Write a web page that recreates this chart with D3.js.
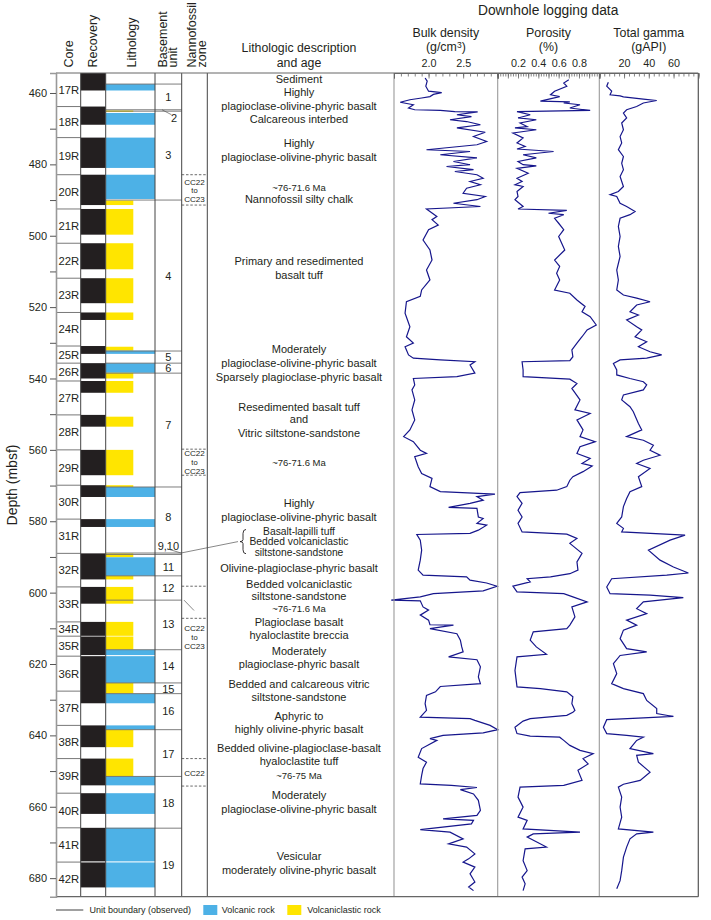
<!DOCTYPE html>
<html>
<head>
<meta charset="utf-8">
<script src="https://cdn.jsdelivr.net/npm/d3@7"></script>
<style>
  body { margin: 0; background: #fff; }
  text { font-family: "Liberation Sans", Arial, Helvetica, sans-serif; fill: #231f20; }
</style>
</head>
<body>
<script>
// ---- data (depths in mbsf) ----
const cores = [['17R', 454.4], ['18R', 463.8], ['19R', 472.5], ['20R', 482.9], ['21R', 492.5],
  ['22R', 502.1], ['23R', 511.9], ['24R', 521.5], ['25R', 530.9], ['26R', 535.7], ['27R', 540.7],
  ['28R', 550.2], ['29R', 560.0], ['30R', 569.9], ['31R', 579.4], ['32R', 589.0], ['33R', 598.4],
  ['34R', 608.2], ['35R', 612.2], ['36R', 617.8], ['37R', 627.6], ['38R', 637.2], ['39R', 646.5],
  ['40R', 656.2], ['41R', 665.9], ['42R', 675.5]];
const coreBottom = 685.2;

const recovery = [[454.4, 459.3], [463.8, 468.9], [472.5, 481.0], [482.9, 491.4], [492.5, 499.7],
  [502.1, 509.4], [511.9, 518.9], [521.5, 523.6], [530.9, 533.1], [535.7, 540.0], [540.7, 544.0],
  [550.2, 553.5], [560.0, 567.1], [569.9, 573.2], [579.4, 581.6], [589.0, 596.3], [598.4, 603.1],
  [608.2, 612.1], [612.3, 617.5], [617.8, 631.0], [637.2, 643.3], [646.5, 654.0], [656.2, 662.0],
  [665.9, 675.3], [675.6, 682.6]];

// V = volcanic rock, C = volcaniclastic rock
const lithology = [[457.5, 459.3, 'V'], [464.9, 465.3, 'C'], [465.6, 468.9, 'V'], [472.5, 481.0, 'V'],
  [482.9, 489.7, 'V'], [490.1, 491.4, 'C'], [492.5, 499.7, 'C'], [502.1, 509.4, 'C'], [511.9, 518.9, 'C'],
  [521.5, 523.6, 'C'], [531.1, 532.2, 'C'], [532.2, 533.1, 'V'], [535.7, 538.4, 'V'], [538.4, 540.0, 'C'],
  [540.7, 544.0, 'C'], [550.7, 553.5, 'C'], [560.0, 567.1, 'C'], [569.9, 570.4, 'C'], [570.4, 573.2, 'V'],
  [579.4, 581.6, 'V'], [589.0, 590.1, 'C'], [590.1, 595.3, 'V'], [595.3, 596.3, 'C'], [598.4, 603.1, 'C'],
  [608.2, 612.1, 'C'], [612.3, 616.0, 'C'], [616.0, 617.5, 'V'], [617.8, 625.3, 'V'], [625.3, 628.3, 'C'],
  [628.3, 631.0, 'V'], [637.2, 638.4, 'V'], [638.4, 643.3, 'C'], [646.5, 651.5, 'C'], [651.5, 654.0, 'V'],
  [656.2, 662.0, 'V'], [665.9, 675.3, 'V'], [675.6, 682.6, 'V']];

const unitBounds = [457.5, 464.7, 465.1, 490.0, 532.3, 535.7, 538.5, 570.4, 588.9, 589.3,
  595.3, 602.1, 616.0, 625.3, 628.3, 638.4, 651.5, 666.0];
const unitLabels = [[461.1, '1'], [467.0, '2'], [477.3, '3'], [511.4, '4'], [533.9, '5'], [537.1, '6'],
  [553.0, '7'], [578.9, '8'], [586.9, '9,10'], [592.8, '11'], [598.7, '12'], [608.7, '13'],
  [620.6, '14'], [626.9, '15'], [633.3, '16'], [645.1, '17'], [659.0, '18'], [676.2, '19']];

const zoneDashes = [482.9, 491.4, 559.8, 567.1, 598.2, 607.2, 646.5, 654.2];
const zoneLabels = [[484.9, 'CC22'], [487.3, 'to'], [489.7, 'CC23'], [560.9, 'CC22'], [563.4, 'to'],
  [565.9, 'CC23'], [609.9, 'CC22'], [612.5, 'to'], [615.0, 'CC23'], [650.6, 'CC22']];

const descLines = [[456.1, 'Sediment'], [459.8, 'Highly'], [463.6, 'plagioclase-olivine-phyric basalt'],
  [467.3, 'Calcareous interbed'], [473.9, 'Highly'], [478.0, 'plagioclase-olivine-phyric basalt'],
  [489.7, 'Nannofossil silty chalk'], [507.2, 'Primary and resedimented'], [511.0, 'basalt tuff'],
  [531.8, 'Moderately'], [535.6, 'plagioclase-olivine-phyric basalt'],
  [539.5, 'Sparsely plagioclase-phyric basalt'], [547.9, 'Resedimented basalt tuff'], [551.4, 'and'],
  [555.4, 'Vitric siltstone-sandstone'], [575.0, 'Highly'], [578.9, 'plagioclase-olivine-phyric basalt'],
  [593.2, 'Olivine-plagioclase-phyric basalt'], [597.6, 'Bedded volcaniclastic'],
  [600.9, 'siltstone-sandstone'], [608.2, 'Plagioclase basalt'], [612.0, 'hyaloclastite breccia'],
  [616.4, 'Moderately'], [619.9, 'plagioclase-phyric basalt'], [625.5, 'Bedded and calcareous vitric'],
  [629.3, 'siltstone-sandstone'], [634.7, 'Aphyric to'], [638.1, 'highly olivine-phyric basalt'],
  [643.5, 'Bedded olivine-plagioclase-basalt'], [647.3, 'hyaloclastite tuff'], [656.6, 'Moderately'],
  [660.6, 'plagioclase-olivine-phyric basalt'], [673.9, 'Vesicular'],
  [677.6, 'moderately olivine-phyric basalt']];
// lines grouped by the brace (units 9 and 10)
const braceLines = [[582.75, 'Basalt-lapilli tuff'], [585.7, 'Bedded volcaniclastic'],
  [588.65, 'siltstone-sandstone']];
const ageLines = [[486.4, '~76-71.6 Ma'], [563.6, '~76-71.6 Ma'], [604.5, '~76-71.6 Ma'], [651.4, '~76-75 Ma']];

const depthTicks = [460, 470, 480, 490, 500, 510, 520, 530, 540, 550, 560, 570, 580, 590, 600,
  610, 620, 630, 640, 650, 660, 670, 680];
const densityTicks = [2.0, 2.5];
const porosityTicks = [0.2, 0.4, 0.6, 0.8];
const gammaTicks = [20, 40, 60];

// [depth, g/cm3]
const density = [[455.8, 1.95], [456.7, 1.98], [458.1, 1.96], [459.5, 2.00], [459.9, 2.19], [460.4, 2.07],
  [461.0, 2.02], [461.4, 1.90], [461.9, 1.73], [462.6, 1.59], [463.3, 1.78], [464.2, 1.71], [464.7, 1.80],
  [464.9, 2.17], [465.2, 2.38], [465.3, 2.71], [466.1, 2.41], [466.6, 2.62], [467.5, 2.31], [468.0, 2.55],
  [468.9, 2.75], [469.8, 2.41], [471.0, 2.82], [472.2, 2.65], [473.6, 2.84], [474.5, 2.70], [475.9, 1.97],
  [476.4, 2.60], [477.3, 2.17], [478.2, 2.70], [479.2, 2.36], [480.1, 2.60], [480.6, 2.26], [481.5, 2.65],
  [482.0, 2.38], [482.9, 2.70], [483.9, 2.79], [484.8, 2.60], [485.7, 2.75], [486.7, 2.55], [488.1, 2.50],
  [489.0, 2.82], [489.9, 2.70], [490.9, 2.36], [491.8, 2.75], [492.5, 1.97], [493.2, 2.02], [494.6, 2.12],
  [495.5, 2.05], [497.0, 2.14], [498.3, 2.00], [501.2, 1.92], [504.0, 2.02], [506.8, 2.05], [509.6, 1.97],
  [512.4, 2.02], [515.2, 1.90], [517.0, 1.88], [518.5, 1.68], [521.7, 1.66], [525.5, 1.73], [528.3, 1.68],
  [530.1, 1.78], [531.1, 1.66], [533.4, 1.71], [534.3, 1.78], [534.8, 2.17], [535.3, 2.67], [536.2, 2.60],
  [538.5, 2.67], [539.5, 2.41], [540.0, 1.78], [541.8, 1.80], [543.2, 1.76], [546.0, 1.80], [548.8, 1.76],
  [551.6, 1.80], [554.4, 1.73], [556.3, 1.64], [557.7, 1.78], [560.1, 1.88], [561.0, 1.97], [561.9, 1.80],
  [564.7, 1.85], [566.6, 1.90], [568.0, 2.05], [570.3, 2.02], [571.7, 2.17], [572.4, 2.96], [573.1, 2.70],
  [574.1, 2.79], [575.0, 2.60], [576.1, 2.29], [576.4, 2.70], [578.8, 2.72], [579.2, 2.79], [580.6, 2.70],
  [581.1, 2.84], [582.5, 2.72], [583.4, 2.60], [583.7, 1.83], [585.3, 1.88], [588.1, 1.90], [590.9, 1.88],
  [593.7, 1.85], [595.1, 1.92], [595.6, 2.55], [596.5, 2.60], [597.3, 2.84], [598.2, 2.99], [599.5, 2.79],
  [600.3, 2.07], [601.2, 1.88], [602.1, 1.46], [602.3, 1.88], [604.0, 1.92], [604.9, 2.00], [606.3, 1.88],
  [607.7, 2.00], [609.0, 2.02], [609.1, 2.36], [610.1, 2.02], [611.5, 2.41], [613.3, 2.46], [615.2, 2.48],
  [616.6, 2.50], [618.0, 2.29], [618.8, 2.70], [620.8, 2.75], [623.6, 2.72], [625.5, 2.75], [626.3, 2.17],
  [627.8, 2.10], [628.8, 1.97], [631.1, 1.95], [633.0, 1.97], [634.9, 1.88], [635.3, 2.60], [635.8, 2.67],
  [637.2, 2.89], [638.4, 3.00], [639.3, 2.79], [640.0, 2.21], [640.9, 2.02], [641.4, 2.12], [643.7, 1.90],
  [646.1, 1.85], [647.5, 1.97], [649.3, 1.92], [651.2, 1.90], [653.6, 1.88], [654.0, 2.33], [654.6, 2.70],
  [655.2, 2.46], [656.4, 2.65], [658.2, 2.72], [661.0, 2.75], [662.4, 2.70], [663.4, 2.21], [663.8, 2.65],
  [664.8, 2.62], [666.4, 1.88], [667.1, 2.31], [669.0, 2.50], [670.4, 2.29], [671.3, 2.55], [673.2, 2.67],
  [674.6, 2.58], [675.5, 2.50], [676.9, 2.67], [678.8, 2.60], [681.1, 2.67], [682.5, 2.58], [683.5, 2.65]];

// [depth, fraction]
const porosity = [[456.3, 0.70], [457.2, 0.65], [458.1, 0.68], [459.5, 0.56], [460.5, 0.52], [461.0, 0.61],
  [462.3, 0.42], [462.5, 0.71], [462.8, 0.65], [463.3, 0.81], [464.2, 0.71], [464.9, 0.91], [465.2, 0.19],
  [466.1, 0.32], [467.0, 0.20], [467.5, 0.38], [468.4, 0.22], [469.4, 0.29], [469.8, 0.17], [470.3, 0.38],
  [471.2, 0.15], [472.6, 0.25], [474.0, 0.19], [475.0, 0.27], [475.7, 0.19], [476.4, 0.55], [477.3, 0.25],
  [478.2, 0.38], [479.2, 0.20], [480.1, 0.25], [480.4, 0.38], [481.1, 0.19], [482.5, 0.30], [483.9, 0.19],
  [484.8, 0.24], [485.7, 0.17], [486.2, 0.25], [487.6, 0.19], [489.0, 0.20], [489.9, 0.17], [491.8, 0.25],
  [492.5, 0.20], [492.9, 0.68], [493.7, 0.50], [494.1, 0.65], [495.1, 0.56], [496.5, 0.60], [498.3, 0.65],
  [500.2, 0.60], [504.0, 0.66], [506.8, 0.56], [508.6, 0.61], [510.5, 0.58], [512.4, 0.61], [515.2, 0.56],
  [516.1, 0.71], [518.0, 0.78], [519.8, 0.86], [521.3, 0.83], [522.7, 0.91], [525.0, 0.97], [526.4, 0.88],
  [528.3, 0.83], [530.1, 0.78], [532.0, 0.73], [533.9, 0.74], [535.0, 0.71], [535.3, 0.24], [537.6, 0.25],
  [539.5, 0.25], [540.2, 0.71], [541.4, 0.78], [542.8, 0.73], [543.2, 0.74], [546.0, 0.81], [548.8, 0.76],
  [549.8, 0.91], [551.6, 0.78], [554.4, 0.84], [556.3, 0.81], [557.7, 0.96], [559.1, 0.81], [561.0, 0.78],
  [562.4, 0.91], [563.8, 0.83], [564.5, 0.93], [566.1, 0.84], [567.5, 0.74], [568.5, 0.71], [570.3, 0.68],
  [571.3, 0.58], [572.0, 0.22], [573.1, 0.19], [575.0, 0.24], [576.9, 0.20], [578.8, 0.24], [580.6, 0.20],
  [583.0, 0.24], [583.6, 0.68], [584.8, 0.78], [586.2, 0.71], [589.0, 0.83], [591.4, 0.78], [593.7, 0.79],
  [594.7, 0.71], [595.6, 0.52], [596.1, 0.29], [597.0, 0.32], [598.2, 0.15], [599.8, 0.19], [600.3, 0.65],
  [601.2, 0.74], [602.6, 0.88], [604.0, 0.73], [606.8, 0.76], [609.1, 0.71], [610.1, 0.68], [611.0, 0.35],
  [613.3, 0.32], [615.2, 0.38], [617.3, 0.48], [618.0, 0.19], [621.8, 0.17], [626.4, 0.19], [626.9, 0.42],
  [627.8, 0.68], [629.2, 0.74], [631.1, 0.73], [633.0, 0.76], [633.5, 0.74], [634.4, 0.68], [635.3, 0.32],
  [636.0, 0.25], [637.7, 0.17], [639.5, 0.19], [640.2, 0.32], [640.5, 0.61], [641.4, 0.65], [642.8, 0.71],
  [644.2, 0.81], [645.1, 0.94], [646.5, 0.84], [648.0, 0.89], [649.8, 0.79], [652.6, 0.83], [654.0, 0.65],
  [654.5, 0.22], [657.3, 0.20], [660.1, 0.25], [662.9, 0.20], [663.8, 0.29], [666.2, 0.25], [667.1, 0.81],
  [667.6, 0.35], [668.5, 0.29], [671.3, 0.48], [671.8, 0.27], [675.1, 0.25], [677.9, 0.29], [679.7, 0.24],
  [681.6, 0.27], [683.5, 0.25]];

// [depth, gAPI]
const gamma = [[457.0, 7.3], [458.1, 6.0], [459.5, 10.0], [460.5, 8.7], [460.8, 16.8], [461.1, 19.5],
  [461.7, 35.6], [462.1, 46.4], [462.8, 35.6], [463.8, 30.2], [464.7, 22.1], [465.6, 19.5], [467.0, 22.1],
  [468.4, 18.1], [470.3, 19.5], [472.2, 16.8], [474.0, 18.1], [475.9, 15.4], [477.8, 19.5], [479.7, 18.1],
  [481.5, 19.5], [483.4, 16.8], [486.2, 19.5], [487.6, 15.4], [488.5, 8.7], [489.0, 14.1], [490.9, 16.8],
  [491.8, 22.1], [493.2, 28.9], [494.1, 24.8], [495.1, 16.8], [497.4, 15.4], [500.2, 16.8], [503.0, 15.4],
  [505.8, 16.8], [509.6, 14.1], [512.4, 15.4], [515.2, 14.1], [516.6, 19.5], [517.5, 30.2], [518.5, 41.0],
  [519.4, 30.2], [521.3, 24.8], [522.2, 31.6], [523.6, 22.1], [525.5, 30.2], [526.4, 34.3], [528.3, 28.9],
  [529.7, 38.3], [531.1, 31.6], [532.5, 41.0], [533.4, 50.4], [534.3, 38.3], [534.8, 16.8], [535.8, 11.4],
  [537.6, 14.1], [539.0, 14.1], [540.0, 24.8], [540.9, 35.6], [541.8, 38.3], [543.2, 35.6], [544.6, 19.5],
  [546.0, 18.1], [547.9, 24.8], [549.3, 27.5], [552.6, 31.6], [554.4, 34.3], [556.3, 22.1], [557.3, 35.6],
  [558.7, 43.7], [560.1, 41.0], [561.5, 49.1], [562.9, 35.6], [563.8, 30.2], [565.2, 41.0], [567.5, 31.6],
  [570.3, 34.3], [571.7, 24.8], [573.6, 22.1], [575.9, 19.5], [578.8, 18.1], [580.6, 14.1], [582.0, 19.5],
  [583.0, 18.1], [583.9, 69.3], [585.3, 57.2], [588.1, 39.7], [590.9, 49.1], [592.8, 59.9], [594.5, 72.0],
  [595.1, 54.5], [596.1, 10.0], [598.4, 6.0], [600.3, 8.7], [600.7, 41.0], [601.4, 67.9], [602.6, 35.6],
  [604.5, 30.2], [605.9, 38.3], [607.7, 22.1], [609.1, 30.2], [610.5, 19.5], [612.9, 16.8], [615.7, 22.1],
  [616.6, 38.3], [617.6, 16.8], [619.9, 11.4], [622.7, 14.1], [625.5, 10.0], [626.9, 19.5], [628.3, 35.6],
  [630.2, 38.3], [632.5, 46.4], [633.9, 46.4], [634.7, 59.9], [635.1, 35.6], [635.6, 6.0], [637.7, 3.3],
  [639.5, 6.0], [640.0, 22.1], [640.5, 35.6], [641.4, 30.2], [643.7, 24.8], [645.1, 43.7], [645.6, 30.2],
  [647.5, 31.6], [650.3, 41.0], [652.6, 33.0], [653.7, 19.5], [654.5, 15.4], [657.3, 18.1], [660.1, 16.8],
  [662.9, 18.1], [666.2, 15.4], [667.1, 43.7], [667.6, 30.2], [669.0, 24.8], [671.3, 22.1], [674.1, 19.5],
  [677.9, 18.1], [680.7, 16.8], [683.0, 14.1]];

// ---- layout ----
const W = 711, H = 920;
const yTop = 73, yBottom = 896.7;
const X = {core: 56, rec: 80.7, lith: 105.7, clast: 133.3, unit: 155, zone: 181.7,
  desc: 207.3, den: 394, por: 497.7, gam: 599.3, end: 698.3};
const BLUE = '#4db1e6', YELLOW = '#ffe500', INK = '#231f20', LOG = '#16168c';

const svg = d3.select('body').append('svg').attr('width', W).attr('height', H);

const y = d3.scaleLinear().domain([cores[0][1], coreBottom]).range([yTop, yBottom]);
const xDen = d3.scaleLinear().domain([1.5, 3.0]).range([X.den, X.por]);
const xPor = d3.scaleLinear().domain([0, 1]).range([X.por, X.gam]);
const xGam = d3.scaleLinear().domain([0, 80]).range([X.gam, X.end]);

// recovery
svg.append('g').selectAll('rect').data(recovery).join('rect')
  .attr('x', X.rec).attr('width', X.lith - X.rec)
  .attr('y', d => y(d[0])).attr('height', d => y(d[1]) - y(d[0]))
  .attr('fill', INK);

// lithology
svg.append('g').selectAll('rect').data(lithology).join('rect')
  .attr('x', X.lith)
  .attr('width', d => (d[2] === 'V' ? X.unit : X.clast) - X.lith)
  .attr('y', d => y(d[0])).attr('height', d => y(d[1]) - y(d[0]))
  .attr('fill', d => d[2] === 'V' ? BLUE : YELLOW);

// core boundaries
svg.append('g').selectAll('line').data(cores.slice(1)).join('line')
  .attr('x1', X.core).attr('x2', X.rec)
  .attr('y1', d => y(d[1])).attr('y2', d => y(d[1]))
  .attr('stroke', '#555').attr('stroke-width', 0.8);

svg.append('g').selectAll('text').data(cores).join('text')
  .attr('x', X.core + 2.5)
  .attr('y', (d, i) => (y(d[1]) + y(i < cores.length - 1 ? cores[i + 1][1] : coreBottom)) / 2)
  .attr('dy', '0.36em').attr('font-size', 11.3).text(d => d[0]);

// unit boundaries
svg.append('g').selectAll('line').data(unitBounds).join('line')
  .attr('x1', X.lith).attr('x2', X.zone)
  .attr('y1', d => y(d)).attr('y2', d => y(d))
  .attr('stroke', '#6f6f6f').attr('stroke-width', 0.9);

svg.append('g').selectAll('text').data(unitLabels).join('text')
  .attr('x', d => d[1] === '2' ? 174 : (X.unit + X.zone) / 2)
  .attr('y', d => y(d[0])).attr('dy', '0.36em')
  .attr('text-anchor', 'middle').attr('font-size', 11).text(d => d[1]);

// leaders
const leader = d3.line().x(d => d[0]).y(d => y(d[1]));
const leaders = [
  [[162, 464.7], [171.5, 466.1]],
  [[167, 587.7], [181, 588.9], [238, 585.7]],
  [[184, 602.1], [194, 605.0]]
];
svg.append('g').selectAll('path').data(leaders).join('path')
  .attr('d', leader).attr('fill', 'none').attr('stroke', '#555').attr('stroke-width', 0.7);

// brace beside the thin units
const b0 = y(582.3), b1 = y(589.1), bm = (b0 + b1) / 2, bx = 244;
svg.append('path')
  .attr('d', `M${bx + 2},${b0} Q${bx - 1},${b0} ${bx - 1},${b0 + 4} L${bx - 1},${bm - 2}
    Q${bx - 1},${bm} ${bx - 4},${bm} Q${bx - 1},${bm} ${bx - 1},${bm + 2} L${bx - 1},${b1 - 4}
    Q${bx - 1},${b1} ${bx + 2},${b1}`)
  .attr('fill', 'none').attr('stroke', INK).attr('stroke-width', 0.9);

// nannofossil zones
svg.append('g').selectAll('line').data(zoneDashes).join('line')
  .attr('x1', X.zone).attr('x2', X.desc)
  .attr('y1', d => y(d)).attr('y2', d => y(d))
  .attr('stroke', '#444').attr('stroke-width', 0.8).attr('stroke-dasharray', '2.5,1.8');

svg.append('g').selectAll('text').data(zoneLabels).join('text')
  .attr('x', (X.zone + X.desc) / 2).attr('y', d => y(d[0])).attr('dy', '0.36em')
  .attr('text-anchor', 'middle').attr('font-size', d => d[1] === 'to' ? 7.6 : 8.1).text(d => d[1]);

// descriptions
const descX = 299;
svg.append('g').selectAll('text').data(descLines).join('text')
  .attr('x', descX).attr('y', d => y(d[0])).attr('dy', '0.36em')
  .attr('text-anchor', 'middle').attr('font-size', 11).text(d => d[1]);
svg.append('g').selectAll('text').data(braceLines).join('text')
  .attr('x', descX).attr('y', d => y(d[0])).attr('dy', '0.36em')
  .attr('text-anchor', 'middle').attr('font-size', 10.3).text(d => d[1]);
svg.append('g').selectAll('text').data(ageLines).join('text')
  .attr('x', descX).attr('y', d => y(d[0])).attr('dy', '0.36em')
  .attr('text-anchor', 'middle').attr('font-size', 9.5).text(d => d[1]);

// logs
const logLine = (xs) => d3.line().x(d => xs(d[1])).y(d => y(d[0]));
[[density, xDen], [porosity, xPor], [gamma, xGam]].forEach(([data, xs]) => {
  svg.append('path').datum(data)
    .attr('d', logLine(xs))
    .attr('fill', 'none').attr('stroke', LOG).attr('stroke-width', 1.2)
    .attr('stroke-linejoin', 'miter');
});

// frames
const frame = svg.append('g').attr('fill', 'none');
[X.rec, X.lith, X.unit, X.zone, X.desc].forEach(x => {
  frame.append('line').attr('x1', x).attr('x2', x).attr('y1', yTop).attr('y2', yBottom)
    .attr('stroke', '#444').attr('stroke-width', 1);
});
[X.den, X.por, X.gam].forEach(x => {
  frame.append('line').attr('x1', x).attr('x2', x).attr('y1', yTop).attr('y2', yBottom)
    .attr('stroke', '#9a9a9a').attr('stroke-width', 1.1);
});
frame.append('line').attr('x1', X.end).attr('x2', X.end).attr('y1', yTop).attr('y2', yBottom)
  .attr('stroke', '#555').attr('stroke-width', 1.2);
frame.append('line').attr('x1', X.core).attr('x2', X.end).attr('y1', yTop).attr('y2', yTop)
  .attr('stroke', '#666').attr('stroke-width', 1);
frame.append('line').attr('x1', X.core).attr('x2', X.end).attr('y1', yBottom).attr('y2', yBottom)
  .attr('stroke', '#666').attr('stroke-width', 1.2);

// depth axis
const depthAxis = svg.append('g').attr('transform', `translate(${X.core},0)`)
  .call(d3.axisLeft(y).tickValues(depthTicks).tickSize(6).tickPadding(3)
    .tickFormat(d => d % 20 === 0 ? d : ''));
depthAxis.select('.domain').attr('stroke', '#999').attr('stroke-width', 1.6);
depthAxis.selectAll('.tick line').attr('stroke', '#555');
depthAxis.selectAll('.tick text').attr('font-size', 11)
  .attr('font-family', '"Liberation Sans", Arial, sans-serif').attr('fill', INK);

// log scales on top
function topAxis(xs, step, majorStep, labels, fmt) {
  const [d0, d1] = xs.domain();
  const n = Math.round((d1 - d0) / step);
  const minor = d3.range(n + 1).map(i => d0 + i * step);
  const g = svg.append('g').attr('transform', `translate(0,${yTop})`);
  g.call(d3.axisTop(xs).tickValues(minor).tickSize(-3.5).tickFormat(''));
  const ratio = Math.round(majorStep / step);
  const g2 = svg.append('g').attr('transform', `translate(0,${yTop})`);
  g2.call(d3.axisTop(xs).tickValues(minor.filter((v, i) => i % ratio === 0)).tickSize(-5.5).tickFormat(''));
  [g, g2].forEach(s => {
    s.selectAll('.domain').attr('stroke', '#666');
    s.selectAll('.tick line').attr('stroke', '#666').attr('stroke-width', 0.8);
  });
  const lab = svg.append('g').attr('transform', `translate(0,${yTop})`)
    .call(d3.axisTop(xs).tickValues(labels).tickSize(0).tickPadding(6).tickFormat(fmt));
  lab.select('.domain').remove();
  lab.selectAll('.tick text').attr('font-size', 10.8)
    .attr('font-family', '"Liberation Sans", Arial, sans-serif').attr('fill', INK);
}
topAxis(xDen, 0.1, 0.5, densityTicks, d3.format('.1f'));
topAxis(xPor, 0.025, 0.1, porosityTicks, d3.format('.1f'));
topAxis(xGam, 4, 20, gammaTicks, d3.format('d'));

// column headers
const heads = [[68.3, 'Core'], [92.7, 'Recovery'], [131.7, 'Lithology'], [162.3, 'Basement'],
  [172.5, 'unit'], [191, 'Nannofossil'], [201.7, 'zone']];
svg.append('g').selectAll('text').data(heads).join('text')
  .attr('transform', d => `translate(${d[0]},67.5) rotate(-90)`)
  .attr('dy', '0.36em').attr('font-size', 12.5).text(d => d[1]);

svg.append('text').attr('transform', 'translate(12,485) rotate(-90)')
  .attr('dy', '0.36em').attr('text-anchor', 'middle').attr('font-size', 14).text('Depth (mbsf)');

const center = (a, b) => (a + b) / 2;
svg.append('text').attr('x', descX).attr('y', 48).attr('dy', '0.36em')
  .attr('text-anchor', 'middle').attr('font-size', 12.3).text('Lithologic description');
svg.append('text').attr('x', descX).attr('y', 63).attr('dy', '0.36em')
  .attr('text-anchor', 'middle').attr('font-size', 12.3).text('and age');

svg.append('text').attr('x', center(X.den, X.end) + 2).attr('y', 10).attr('dy', '0.36em')
  .attr('text-anchor', 'middle').attr('font-size', 13.8).text('Downhole logging data');

const trackHeads = [[center(X.den, X.por), 'Bulk density'], [center(X.por, X.gam), 'Porosity'],
  [center(X.gam, X.end), 'Total gamma']];
svg.append('g').selectAll('text').data(trackHeads).join('text')
  .attr('x', d => d[0]).attr('y', 33).attr('dy', '0.36em')
  .attr('text-anchor', 'middle').attr('font-size', 12.4).text(d => d[1]);

const unitText = svg.append('text').attr('x', trackHeads[0][0]).attr('y', 47).attr('dy', '0.36em')
  .attr('text-anchor', 'middle').attr('font-size', 12.4);
unitText.append('tspan').text('(g/cm');
unitText.append('tspan').attr('font-size', 8.5).attr('dy', '-0.45em').text('3');
unitText.append('tspan').attr('dy', '0.3em').text(')');
svg.append('text').attr('x', trackHeads[1][0]).attr('y', 47).attr('dy', '0.36em')
  .attr('text-anchor', 'middle').attr('font-size', 12.4).text('(%)');
svg.append('text').attr('x', trackHeads[2][0]).attr('y', 47).attr('dy', '0.36em')
  .attr('text-anchor', 'middle').attr('font-size', 12.4).text('(gAPI)');

// legend
const legY = 910;
const leg = svg.append('g');
leg.append('line').attr('x1', 56).attr('x2', 83.3).attr('y1', legY).attr('y2', legY)
  .attr('stroke', '#777').attr('stroke-width', 1.4);
leg.append('text').attr('x', 89.5).attr('y', legY).attr('dy', '0.36em').attr('font-size', 9)
  .text('Unit boundary (observed)');
leg.append('rect').attr('x', 203.3).attr('y', legY - 5).attr('width', 14).attr('height', 10).attr('fill', BLUE);
leg.append('text').attr('x', 221.7).attr('y', legY).attr('dy', '0.36em').attr('font-size', 9)
  .text('Volcanic rock');
leg.append('rect').attr('x', 287.3).attr('y', legY - 5).attr('width', 14).attr('height', 10).attr('fill', YELLOW);
leg.append('text').attr('x', 307.3).attr('y', legY).attr('dy', '0.36em').attr('font-size', 9)
  .text('Volcaniclastic rock');
</script>
</body>
</html>
